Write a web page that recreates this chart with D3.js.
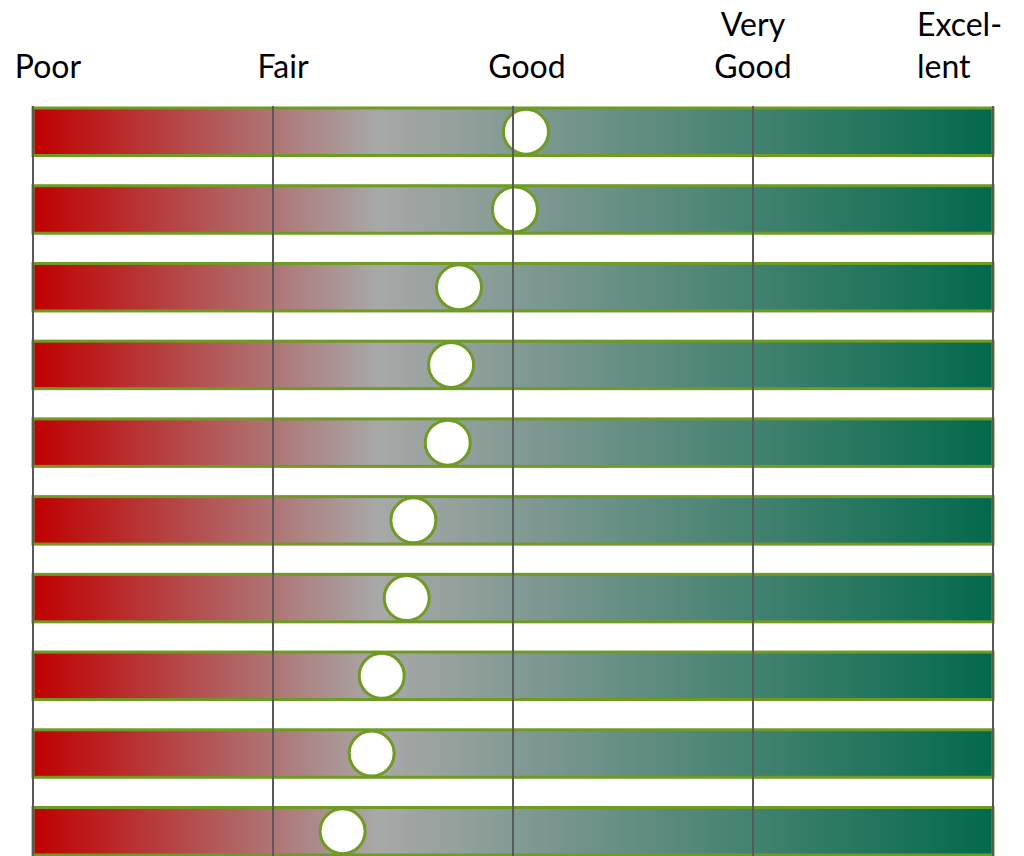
<!DOCTYPE html>
<html>
<head>
<meta charset="utf-8">
<script src="https://cdn.jsdelivr.net/npm/d3@7"></script>
<style>
  html, body { margin: 0; padding: 0; background: #ffffff; }
  svg { display: block; }
  text { font-family: Lato, "Open Sans", sans-serif; fill: #000; }
</style>
</head>
<body>
<svg id="chart" width="1024" height="856"></svg>
<script>
// Rating scale categories (left to right)
const categories = ["Poor", "Fair", "Good", "Very Good", "Excellent"];
// Header text for each category, split into lines
const categoryLabels = [["Poor"], ["Fair"], ["Good"], ["Very", "Good"], ["Excel-", "lent"]];
// One row per item, top to bottom; score on the 0 (Poor) .. 4 (Excellent) scale
const rows = ["1", "2", "3", "4", "5", "6", "7", "8", "9", "10"];
const scores = [2.054, 2.008, 1.775, 1.742, 1.728, 1.585, 1.557, 1.453, 1.411, 1.290];

(function () {
  const svg = d3.select("#chart");
  const H = 856;
  const plotLeft = 33, plotRight = 993, plotTop = 108, plotBottom = 855;

  const x = d3.scaleLinear().domain([0, categories.length - 1]).range([plotLeft, plotRight]);
  const y = d3.scaleBand().domain(rows).range([plotTop, plotBottom]).paddingInner(0.389).paddingOuter(0);

  // Red -> grey -> green gradient running across the whole scale
  const defs = svg.append("defs");
  const grad = defs.append("linearGradient")
    .attr("id", "scaleGrad")
    .attr("gradientUnits", "userSpaceOnUse")
    .attr("x1", x(0)).attr("x2", x(4)).attr("y1", 0).attr("y2", 0);
  grad.append("stop").attr("offset", "0%").attr("stop-color", "#C00000");
  grad.append("stop").attr("offset", "36%").attr("stop-color", "#A8A8A8");
  grad.append("stop").attr("offset", "100%").attr("stop-color", "#02694C");

  const green = "#6F9A24";

  // Bars
  svg.append("g").selectAll("rect")
    .data(rows)
    .join("rect")
    .attr("x", x(0))
    .attr("y", d => y(d))
    .attr("width", x(4) - x(0))
    .attr("height", y.bandwidth())
    .attr("fill", "url(#scaleGrad)")
    .attr("stroke", green)
    .attr("stroke-width", 3);

  // Score markers
  svg.append("g").selectAll("circle")
    .data(rows.map((r, i) => ({ row: r, v: scores[i] })))
    .join("circle")
    .attr("cx", d => x(d.v))
    .attr("cy", d => y(d.row) + y.bandwidth() / 2)
    .attr("r", 22.5)
    .attr("fill", "#ffffff")
    .attr("stroke", green)
    .attr("stroke-width", 3);

  // Vertical category lines, drawn over bars and markers
  svg.append("g").selectAll("line")
    .data(d3.range(categories.length))
    .join("line")
    .attr("x1", d => x(d)).attr("x2", d => x(d))
    .attr("y1", plotTop - 2).attr("y2", H)
    .attr("stroke", "#595959")
    .attr("stroke-width", 2);

  // Category headers
  const labelShift = [15, 10, 14, 0, -76];
  const labelAnchor = ["middle", "middle", "middle", "middle", "start"];
  const lineGap = 42, lastBaseline = 78;
  const hdr = svg.append("g");
  categoryLabels.forEach((lines, i) => {
    const t = hdr.append("text")
      .attr("text-anchor", labelAnchor[i])
      .attr("font-size", 32);
    lines.forEach((ln, j) => {
      t.append("tspan")
        .attr("x", x(i) + labelShift[i])
        .attr("y", lastBaseline - (lines.length - 1 - j) * lineGap)
        .text(ln);
    });
  });
})();
</script>
</body>
</html>
